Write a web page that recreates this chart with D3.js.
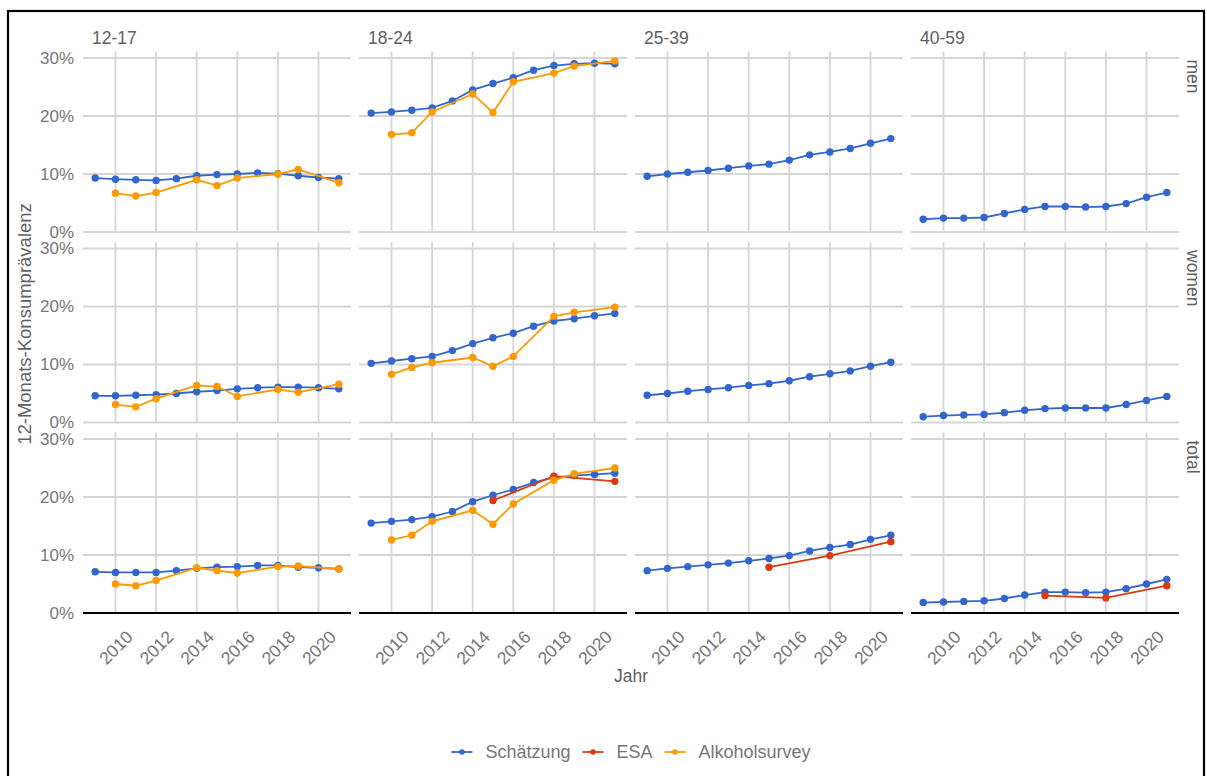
<!DOCTYPE html>
<html><head><meta charset="utf-8">
<script src="https://cdn.jsdelivr.net/npm/d3@7/dist/d3.min.js"></script>
<style>body{margin:0;background:#fff}svg{display:block;font-family:"Liberation Sans",Arial,sans-serif}</style>
</head><body><svg id="c" width="1206" height="776"></svg>
<script>
// ---- data ----
const ageGroups = ["12-17", "18-24", "25-39", "40-59"];
const sexes = ["men", "women", "total"];
const seriesNames = ["Schätzung", "ESA", "Alkoholsurvey"];
const seriesColors = ["#3366CC", "#DC3912", "#FF9900"];
const years = [2009, 2010, 2011, 2012, 2013, 2014, 2015, 2016, 2017, 2018, 2019, 2020, 2021];
const surveyYears = [2010, 2011, 2012, 2014, 2015, 2016, 2018, 2019, 2021];
const esaYears = [2015, 2018, 2021];
const xTicks = [2010, 2012, 2014, 2016, 2018, 2020];
const yTicks = [0, 0.1, 0.2, 0.3];

// Schätzung (percent), per age group
const estMen12 = [9.3, 9.1, 9.0, 8.9, 9.2, 9.7, 9.9, 10.0, 10.2, 10.05, 9.7, 9.4, 9.2];
const estMen18 = [20.5, 20.7, 21.0, 21.4, 22.6, 24.5, 25.6, 26.6, 27.9, 28.7, 29.0, 29.1, 29.0];
const estMen25 = [9.6, 10.0, 10.3, 10.6, 11.0, 11.4, 11.7, 12.4, 13.3, 13.8, 14.4, 15.3, 16.1];
const estMen40 = [2.2, 2.4, 2.4, 2.5, 3.2, 3.9, 4.4, 4.4, 4.3, 4.4, 4.9, 6.0, 6.8];
const estWomen12 = [4.6, 4.6, 4.7, 4.8, 5.0, 5.3, 5.5, 5.8, 6.0, 6.1, 6.1, 6.0, 5.8];
const estWomen18 = [10.2, 10.6, 11.0, 11.4, 12.4, 13.6, 14.6, 15.4, 16.6, 17.5, 17.9, 18.4, 18.8];
const estWomen25 = [4.7, 5.0, 5.4, 5.7, 6.0, 6.4, 6.7, 7.2, 7.9, 8.4, 8.9, 9.7, 10.4];
const estWomen40 = [1.0, 1.2, 1.3, 1.4, 1.7, 2.1, 2.4, 2.5, 2.5, 2.5, 3.1, 3.8, 4.5];
const estTotal12 = [7.1, 7.0, 7.0, 7.0, 7.3, 7.7, 7.9, 8.0, 8.2, 8.2, 7.9, 7.8, 7.6];
const estTotal18 = [15.5, 15.8, 16.1, 16.6, 17.5, 19.2, 20.3, 21.3, 22.5, 23.4, 23.7, 23.9, 24.1];
const estTotal25 = [7.3, 7.7, 8.0, 8.3, 8.6, 9.0, 9.4, 9.9, 10.7, 11.3, 11.8, 12.7, 13.4];
const estTotal40 = [1.8, 1.9, 2.0, 2.1, 2.5, 3.1, 3.6, 3.6, 3.5, 3.6, 4.2, 5.0, 5.8];

// Alkoholsurvey (percent), 12-17 and 18-24 only
const surveyMen12 = [6.7, 6.2, 6.8, 9.0, 8.0, 9.3, 10.0, 10.8, 8.5];
const surveyMen18 = [16.8, 17.1, 20.7, 23.8, 20.6, 25.9, 27.4, 28.6, 29.5];
const surveyWomen12 = [3.1, 2.7, 4.1, 6.4, 6.2, 4.5, 5.7, 5.2, 6.6];
const surveyWomen18 = [8.3, 9.5, 10.3, 11.2, 9.7, 11.4, 18.3, 19.0, 19.9];
const surveyTotal12 = [5.0, 4.7, 5.6, 7.8, 7.3, 6.9, 8.0, 8.1, 7.6];
const surveyTotal18 = [12.6, 13.4, 15.8, 17.7, 15.3, 18.8, 22.9, 24.0, 25.0];

// ESA (percent), total only, 18-24 / 25-39 / 40-59
const esaTotal18 = [19.4, 23.6, 22.7];
const esaTotal25 = [7.9, 9.9, 12.3];
const esaTotal40 = [3.0, 2.6, 4.7];

// panel table built from the arrays above: [row][col]
const est = [[estMen12, estMen18, estMen25, estMen40],
             [estWomen12, estWomen18, estWomen25, estWomen40],
             [estTotal12, estTotal18, estTotal25, estTotal40]];
const survey = [[surveyMen12, surveyMen18, null, null],
                [surveyWomen12, surveyWomen18, null, null],
                [surveyTotal12, surveyTotal18, null, null]];
const esa = [[null, null, null, null], [null, null, null, null], [null, esaTotal18, esaTotal25, esaTotal40]];

// ---- layout ----
const svg = d3.select("#c");
const panelW = 268, panelH = 180.5;
const colX = [83, 359, 635, 911];
const rowY = [51.5, 242, 432.5];
const gridColor = "#d5d5d5";
const textColor = "#767676";
const stripColor = "#606060";
const FS = 17;

const x = d3.scaleLinear().domain([2008.4, 2021.6]).range([0, panelW]);
const y = d3.scaleLinear().domain([0, 0.3112]).range([panelH, 0]);
const line = d3.line().x(d => x(d.year)).y(d => y(d.v / 100));

// outer frame
svg.append("rect").attr("x", 8).attr("y", 11).attr("width", 1196).attr("height", 780)
  .attr("fill", "none").attr("stroke", "#000").attr("stroke-width", 2.2);

sexes.forEach((sex, r) => {
  ageGroups.forEach((age, c) => {
    const g = svg.append("g").attr("transform", `translate(${colX[c]},${rowY[r]})`);
    // grid
    g.selectAll("line.h").data(yTicks).join("line")
      .attr("x1", 0).attr("x2", panelW).attr("y1", d => y(d)).attr("y2", d => y(d))
      .attr("stroke", gridColor).attr("stroke-width", 1.8);
    g.selectAll("line.v").data(xTicks).join("line")
      .attr("x1", d => x(d)).attr("x2", d => x(d)).attr("y1", 0).attr("y2", panelH)
      .attr("stroke", gridColor).attr("stroke-width", 1.8);

    // series
    const sets = [];
    sets.push({ i: 0, pts: years.map((yr, k) => ({ year: yr, v: est[r][c][k] })) });
    if (esa[r][c]) sets.push({ i: 1, pts: esaYears.map((yr, k) => ({ year: yr, v: esa[r][c][k] })) });
    if (survey[r][c]) sets.push({ i: 2, pts: surveyYears.map((yr, k) => ({ year: yr, v: survey[r][c][k] })) });
    sets.forEach(s => {
      g.append("path").attr("d", line(s.pts)).attr("fill", "none")
        .attr("stroke", seriesColors[s.i]).attr("stroke-width", 1.8);
      g.selectAll(null).data(s.pts).join("circle")
        .attr("cx", d => x(d.year)).attr("cy", d => y(d.v / 100)).attr("r", 3.7)
        .attr("fill", seriesColors[s.i]);
    });

    // y axis labels (first column)
    if (c === 0) {
      const ax = g.append("g").attr("transform", "translate(-9,0)")
        .call(d3.axisLeft(y).tickValues(yTicks).tickFormat(d3.format(".0%")).tickSize(0).tickPadding(0));
      ax.select(".domain").remove();
      ax.selectAll("text").attr("fill", textColor).attr("font-size", FS)
        .attr("font-family", "Liberation Sans, Arial, sans-serif");
    }
    // strip top label (first row)
    if (r === 0) {
      svg.append("text").attr("x", colX[c] + 9).attr("y", 43.5).text(age)
        .attr("font-size", 17.5).attr("fill", stripColor);
    }
    // right strip labels
    if (c === 3) {
      svg.append("text").attr("transform", `translate(1187,${rowY[r] + 8}) rotate(90)`)
        .text(sex).attr("font-size", 17.5).attr("fill", stripColor);
    }
    // bottom axis
    if (r === 2) {
      g.append("line").attr("x1", 0).attr("x2", panelW).attr("y1", panelH).attr("y2", panelH)
        .attr("stroke", "#000").attr("stroke-width", 2);
      const bx = g.append("g").attr("transform", `translate(0,${panelH})`)
        .call(d3.axisBottom(x).tickValues(xTicks).tickFormat(d3.format("d")).tickSize(0).tickPadding(0));
      bx.select(".domain").remove();
      bx.selectAll("text").attr("fill", textColor).attr("font-size", 17.5)
        .attr("font-family", "Liberation Sans, Arial, sans-serif")
        .attr("text-anchor", "end").attr("dy", null).attr("y", 0)
        .attr("transform", "translate(18,25) rotate(-45)");
    }
  });
});

// axis titles
svg.append("text").attr("x", 631).attr("y", 682).attr("text-anchor", "middle")
  .text("Jahr").attr("font-size", 17.5).attr("fill", stripColor);
svg.append("text").attr("transform", "translate(31,324) rotate(-90)").attr("text-anchor", "middle")
  .text("12-Monats-Konsumprävalenz").attr("font-size", 18.5).attr("fill", stripColor);

// legend
const legItems = seriesNames.map((n, i) => ({ name: n, color: seriesColors[i] }));
const leg = svg.append("g");
let lx = 0;
legItems.forEach(it => {
  const gi = leg.append("g").attr("transform", `translate(${lx},0)`);
  gi.append("line").attr("x1", 0).attr("x2", 21).attr("y1", 0).attr("y2", 0)
    .attr("stroke", it.color).attr("stroke-width", 1.8);
  gi.append("circle").attr("cx", 10.5).attr("cy", 0).attr("r", 2.8).attr("fill", it.color);
  const t = gi.append("text").attr("x", 34).attr("y", 0).attr("dy", "0.35em")
    .text(it.name).attr("font-size", 18).attr("fill", textColor);
  lx += 34 + t.node().getComputedTextLength() + 12;
});
const legW = lx - 12;
leg.attr("transform", `translate(${631 - legW / 2},752)`);
</script></body></html>
